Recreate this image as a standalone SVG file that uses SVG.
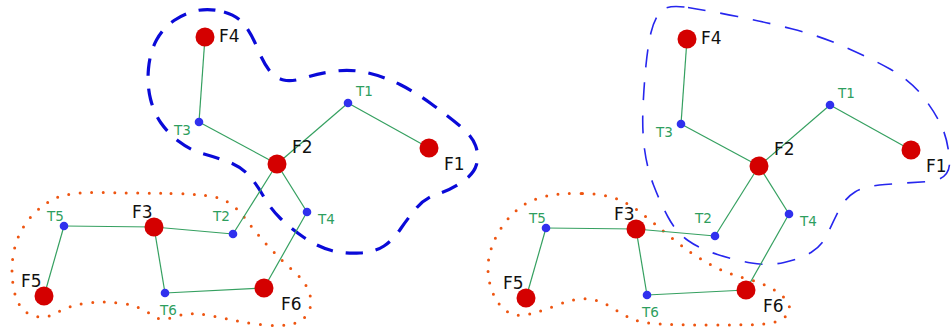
<svg xmlns="http://www.w3.org/2000/svg" width="951" height="332" viewBox="0 0 951 332">
<style>
.edge{stroke:#35a060;stroke-width:1.2;fill:none}
.fn{fill:#d40000}
.tn{fill:#3030ee}
.fl{font-family:"DejaVu Sans",sans-serif;font-size:17px;fill:#111}
.tl{font-family:"DejaVu Sans",sans-serif;font-size:13.5px;fill:#2e9e5e}
.hb1{fill:none;stroke:#0a0ad8;stroke-width:3.2;stroke-dasharray:17 13}
.hb2{fill:none;stroke:#2626ee;stroke-width:1.6;stroke-dasharray:18 15}
.ho{fill:none;stroke:#ee5511;stroke-width:3;stroke-dasharray:0 11.5;stroke-linecap:round}
</style>
<rect width="951" height="332" fill="#ffffff"/>
<g id="hulls">
<path class="hb1" d="M 224,12 Q 238,16 245,25.5 Q 252,35 257.5,48.5 Q 263,62 269,70 Q 275,78 283.5,80 Q 292,82 306,77.5 Q 320,73 336,71 Q 352,69 368.5,73 Q 385,77 400,84.5 Q 415,92 431.5,104 Q 448,116 460,126 Q 472,136 475.5,145.5 Q 479,155 476.5,164.5 Q 474,174 462,182 Q 450,190 437.5,194 Q 425,198 416.5,208 Q 408,218 400.5,229 Q 393,240 384,246 Q 375,252 360,253 Q 345,254 331.5,250.5 Q 318,247 304,237.5 Q 290,228 280,218 Q 270,208 263,195.5 Q 256,183 248,174.5 Q 240,166 227.5,161.5 Q 215,157 202.5,153.5 Q 190,150 179,141.5 Q 168,133 161,123 Q 154,113 150.5,99 Q 147,85 148.5,68.5 Q 150,52 156.5,40 Q 163,28 174,20.5 Q 185,13 197.5,10.5 Q 210,8 224,12 Z"/>
<path class="ho" d="M 171,193.5 Q 212,194 224,200 Q 236,206 246,219.5 Q 256,233 269,247 Q 282,261 293.5,271 Q 305,281 309,292 Q 313,303 308.5,312 Q 304,321 292,324 Q 280,327 260,324.5 Q 240,322 225,318.5 Q 210,315 197.5,314 Q 185,313 172.5,317.5 Q 160,322 150,314 Q 140,306 122.5,303.5 Q 105,301 87.5,303 Q 70,305 57.5,312.5 Q 45,320 31.5,315 Q 18,310 14,290 Q 10,270 14,251 Q 18,232 30,218 Q 42,204 56,198 Q 70,192 100,192.5 Q 130,193 171,193.5 Z"/>
<path class="hb2" d="M 688,7.5 Q 710,11 737.5,16.5 Q 765,22 792.5,29 Q 820,36 845,47 Q 870,58 890,69 Q 910,80 922.5,96 Q 935,112 941.5,126 Q 948,140 949.5,160 Q 951,180 928,181.5 Q 905,183 885,184.5 Q 865,186 855,192 Q 845,198 839,210 Q 833,222 827.5,234 Q 822,246 811,252.5 Q 800,259 784,262.5 Q 768,266 751.5,263 Q 735,260 717.5,254.5 Q 700,249 688,240.5 Q 676,232 668,217 Q 660,202 653.5,185 Q 647,168 644.5,149 Q 642,130 643,107.5 Q 644,85 646,65 Q 648,45 651,32.5 Q 654,20 660,12 Q 666,4 688,7.5 Z"/>
<path class="ho" d="M 582.5,193.5 Q 605,194 617.5,199 Q 630,204 642.5,214 Q 655,224 672.5,238.5 Q 690,253 707.5,263 Q 725,273 742.5,277.5 Q 760,282 772.5,289 Q 785,296 788.5,304 Q 792,312 783.5,318 Q 775,324 757.5,324.5 Q 740,325 710,325 Q 680,325 660,324 Q 640,323 630,318 Q 620,313 610,306.5 Q 600,300 587.5,299 Q 575,298 560,304 Q 545,310 530,314 Q 515,318 505,310 Q 495,302 490.5,286 Q 486,270 489.5,255 Q 493,240 501.5,227.5 Q 510,215 520,207.5 Q 530,200 545,196.5 Q 560,193 582.5,193.5 Z"/>
</g>
<g id="connectors">
<line class="edge" x1="205" y1="37" x2="199" y2="122"/>
<line class="edge" x1="199" y1="122" x2="277" y2="164"/>
<line class="edge" x1="277" y1="164" x2="348" y2="103"/>
<line class="edge" x1="348" y1="103" x2="429" y2="148"/>
<line class="edge" x1="277" y1="164" x2="233" y2="234"/>
<line class="edge" x1="277" y1="164" x2="307" y2="212"/>
<line class="edge" x1="307" y1="212" x2="264" y2="288"/>
<line class="edge" x1="233" y1="234" x2="154" y2="227"/>
<line class="edge" x1="154" y1="227" x2="64" y2="226"/>
<line class="edge" x1="64" y1="226" x2="44" y2="296"/>
<line class="edge" x1="154" y1="227" x2="165" y2="293"/>
<line class="edge" x1="165" y1="293" x2="264" y2="288"/>
<line class="edge" x1="687" y1="39" x2="681" y2="124"/>
<line class="edge" x1="681" y1="124" x2="759" y2="166"/>
<line class="edge" x1="759" y1="166" x2="830" y2="105"/>
<line class="edge" x1="830" y1="105" x2="911" y2="150"/>
<line class="edge" x1="759" y1="166" x2="715" y2="236"/>
<line class="edge" x1="759" y1="166" x2="789" y2="214"/>
<line class="edge" x1="789" y1="214" x2="746" y2="290"/>
<line class="edge" x1="715" y1="236" x2="636" y2="229"/>
<line class="edge" x1="636" y1="229" x2="546" y2="228"/>
<line class="edge" x1="546" y1="228" x2="526" y2="298"/>
<line class="edge" x1="636" y1="229" x2="647" y2="295"/>
<line class="edge" x1="647" y1="295" x2="746" y2="290"/>
</g>
<g id="L-F1"><circle class="fn" cx="429" cy="148" r="9.5"/><text class="fl" x="444" y="170">F1</text></g>
<g id="L-F2"><circle class="fn" cx="277" cy="164" r="9.5"/><text class="fl" x="292" y="153">F2</text></g>
<g id="L-F3"><circle class="fn" cx="154" cy="227" r="9.5"/><text class="fl" x="132" y="218">F3</text></g>
<g id="L-F4"><circle class="fn" cx="205" cy="37" r="9.5"/><text class="fl" x="219" y="42">F4</text></g>
<g id="L-F5"><circle class="fn" cx="44" cy="296" r="9.5"/><text class="fl" x="21" y="287">F5</text></g>
<g id="L-F6"><circle class="fn" cx="264" cy="288" r="9.5"/><text class="fl" x="281" y="310">F6</text></g>
<g id="L-T1"><circle class="tn" cx="348" cy="103" r="4.3"/><text class="tl" x="356" y="96">T1</text></g>
<g id="L-T2"><circle class="tn" cx="233" cy="234" r="4.3"/><text class="tl" x="213" y="221">T2</text></g>
<g id="L-T3"><circle class="tn" cx="199" cy="122" r="4.3"/><text class="tl" x="174" y="135">T3</text></g>
<g id="L-T4"><circle class="tn" cx="307" cy="212" r="4.3"/><text class="tl" x="318" y="224">T4</text></g>
<g id="L-T5"><circle class="tn" cx="64" cy="226" r="4.3"/><text class="tl" x="47" y="221">T5</text></g>
<g id="L-T6"><circle class="tn" cx="165" cy="293" r="4.3"/><text class="tl" x="160" y="315">T6</text></g>
<g id="R-F1"><circle class="fn" cx="911" cy="150" r="9.5"/><text class="fl" x="926" y="172">F1</text></g>
<g id="R-F2"><circle class="fn" cx="759" cy="166" r="9.5"/><text class="fl" x="774" y="155">F2</text></g>
<g id="R-F3"><circle class="fn" cx="636" cy="229" r="9.5"/><text class="fl" x="614" y="220">F3</text></g>
<g id="R-F4"><circle class="fn" cx="687" cy="39" r="9.5"/><text class="fl" x="701" y="44">F4</text></g>
<g id="R-F5"><circle class="fn" cx="526" cy="298" r="9.5"/><text class="fl" x="503" y="289">F5</text></g>
<g id="R-F6"><circle class="fn" cx="746" cy="290" r="9.5"/><text class="fl" x="763" y="312">F6</text></g>
<g id="R-T1"><circle class="tn" cx="830" cy="105" r="4.3"/><text class="tl" x="838" y="98">T1</text></g>
<g id="R-T2"><circle class="tn" cx="715" cy="236" r="4.3"/><text class="tl" x="695" y="223">T2</text></g>
<g id="R-T3"><circle class="tn" cx="681" cy="124" r="4.3"/><text class="tl" x="656" y="137">T3</text></g>
<g id="R-T4"><circle class="tn" cx="789" cy="214" r="4.3"/><text class="tl" x="800" y="226">T4</text></g>
<g id="R-T5"><circle class="tn" cx="546" cy="228" r="4.3"/><text class="tl" x="529" y="223">T5</text></g>
<g id="R-T6"><circle class="tn" cx="647" cy="295" r="4.3"/><text class="tl" x="642" y="317">T6</text></g>
</svg>
